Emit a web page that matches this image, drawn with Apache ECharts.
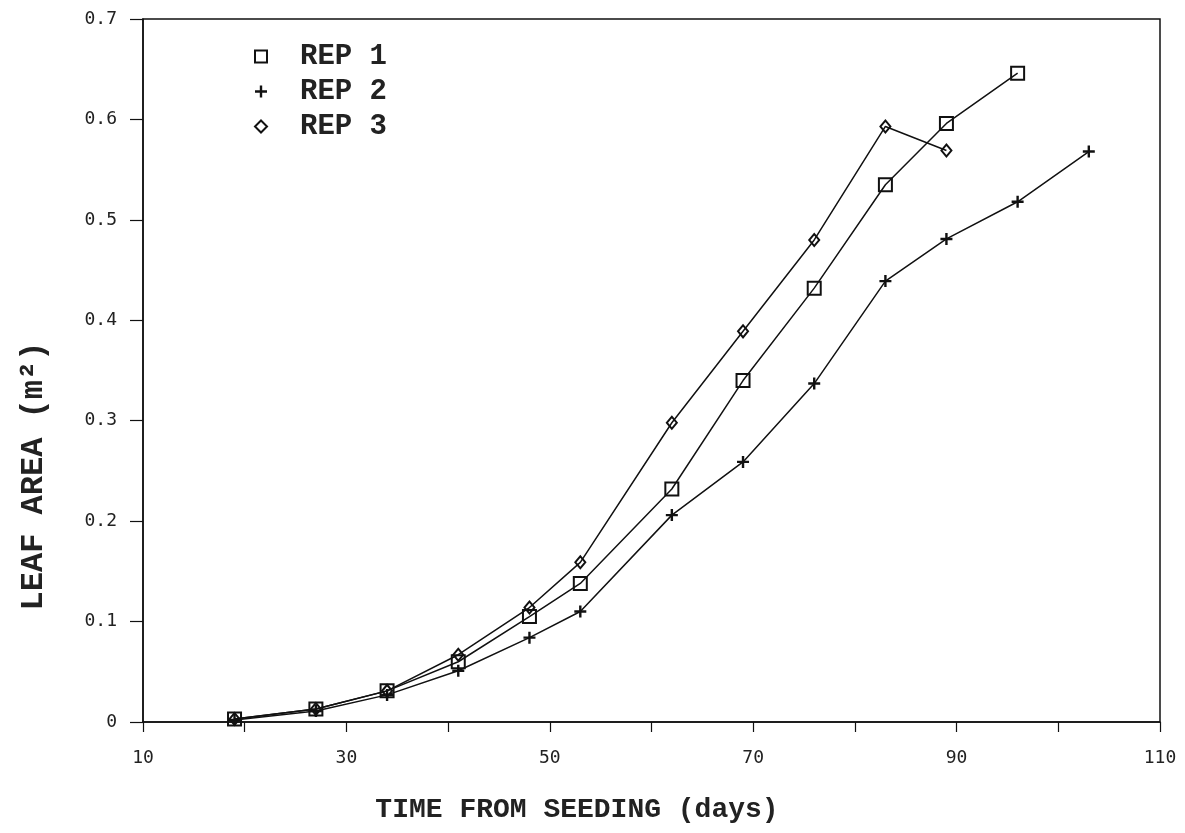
<!DOCTYPE html>
<html>
<head>
<meta charset="utf-8">
<script src="https://cdn.jsdelivr.net/npm/echarts@6/dist/echarts.min.js"></script>
<style>
  html, body { margin: 0; padding: 0; background: #fff; }
  #chart { width: 1185px; height: 833px; }
</style>
</head>
<body>
<div id="chart"></div>
<script>
// days after seeding and leaf area (m2) per replicate
var days1 = [19, 27, 34, 41, 48, 53, 62, 69, 76, 83, 89, 96];
var rep1 = [0.003, 0.013, 0.031, 0.060, 0.105, 0.138, 0.232, 0.340, 0.432, 0.535, 0.596, 0.646];
var days2 = [19, 27, 34, 41, 48, 53, 62, 69, 76, 83, 89, 96, 103];
var rep2 = [0.002, 0.011, 0.027, 0.051, 0.084, 0.110, 0.206, 0.259, 0.337, 0.439, 0.481, 0.518, 0.568];
var days3 = [19, 27, 34, 41, 48, 53, 62, 69, 76, 83, 89];
var rep3 = [0.003, 0.013, 0.031, 0.067, 0.114, 0.159, 0.298, 0.389, 0.480, 0.593, 0.569];
var names = ['REP 1', 'REP 2', 'REP 3'];
var xLabels = [10, 30, 50, 70, 90, 110];

var monoFont = "'Liberation Mono', 'Courier New', monospace";
var tickFont = "'DejaVu Sans Mono', monospace";
var plusPath = 'path://M4,0H6V4H10V6H6V10H4V6H0V4H4Z';

function pairs(xs, ys) {
  return xs.map(function (x, i) { return [x, ys[i]]; });
}

var chart = echarts.init(document.getElementById('chart'));

var option = {
  backgroundColor: '#fff',
  animation: false,
  grid: {
    left: 143, right: 25, top: 19, bottom: 111,
    show: true, borderColor: '#111', borderWidth: 1.5
  },
  legend: {
    orient: 'vertical',
    left: 254,
    top: 42,
    padding: 0,
    itemGap: 6,
    itemWidth: 12,
    itemHeight: 12,
    textStyle: {
      fontFamily: monoFont, fontWeight: 'bold', fontSize: 29, color: '#222',
      lineHeight: 26, padding: [0, 0, 0, 28]
    },
    data: [
      { name: names[0], icon: 'rect', itemStyle: { color: 'rgba(0,0,0,0)', borderColor: '#111', borderWidth: 2 } },
      { name: names[1], icon: plusPath, itemStyle: { color: '#111', borderWidth: 0 } },
      { name: names[2], icon: 'diamond', itemStyle: { color: 'rgba(0,0,0,0)', borderColor: '#111', borderWidth: 2 } }
    ]
  },
  xAxis: {
    type: 'value',
    min: 10, max: 110, interval: 10,
    axisLine: { lineStyle: { color: '#111', width: 1.5 } },
    axisTick: { inside: false, length: 10, lineStyle: { color: '#111', width: 1.2 } },
    splitLine: { show: false },
    axisLabel: {
      margin: 27, fontSize: 18, fontFamily: tickFont, color: '#222',
      formatter: function (v) { return xLabels.indexOf(v) >= 0 ? String(v) : ''; }
    }
  },
  yAxis: {
    type: 'value',
    min: 0, max: 0.7, interval: 0.1,
    axisLine: { show: true, lineStyle: { color: '#111', width: 1.5 } },
    axisTick: { show: true, inside: false, length: 13, lineStyle: { color: '#111', width: 1.2 } },
    splitLine: { show: false },
    axisLabel: {
      margin: 26, fontSize: 18, fontFamily: tickFont, color: '#222',
      formatter: function (v) { return v === 0 ? '0' : v.toFixed(1); }
    }
  },
  graphic: [
    {
      type: 'text', x: 577, y: 810,
      style: {
        text: 'TIME FROM SEEDING (days)', fontFamily: monoFont, fontWeight: 'bold',
        fontSize: 28, fill: '#222', align: 'center', verticalAlign: 'middle'
      }
    },
    {
      type: 'text', x: 34, y: 476, rotation: Math.PI / 2,
      style: {
        text: 'LEAF AREA (m²)', fontFamily: monoFont, fontWeight: 'bold',
        fontSize: 32, fill: '#222', align: 'center', verticalAlign: 'middle'
      }
    }
  ],
  series: [
    {
      name: names[0], type: 'line', data: pairs(days1, rep1),
      symbol: 'rect', symbolSize: 13, showAllSymbol: true,
      lineStyle: { color: '#111', width: 1.5 },
      itemStyle: { color: 'rgba(0,0,0,0)', borderColor: '#111', borderWidth: 2 }
    },
    {
      name: names[1], type: 'line', data: pairs(days2, rep2),
      symbol: plusPath, symbolSize: 12, showAllSymbol: true,
      lineStyle: { color: '#111', width: 1.5 },
      itemStyle: { color: '#111', borderWidth: 0 }
    },
    {
      name: names[2], type: 'line', data: pairs(days3, rep3),
      symbol: 'diamond', symbolSize: [10, 12], showAllSymbol: true,
      lineStyle: { color: '#111', width: 1.5 },
      itemStyle: { color: 'rgba(0,0,0,0)', borderColor: '#111', borderWidth: 2 }
    }
  ]
};

chart.setOption(option);
</script>
</body>
</html>
